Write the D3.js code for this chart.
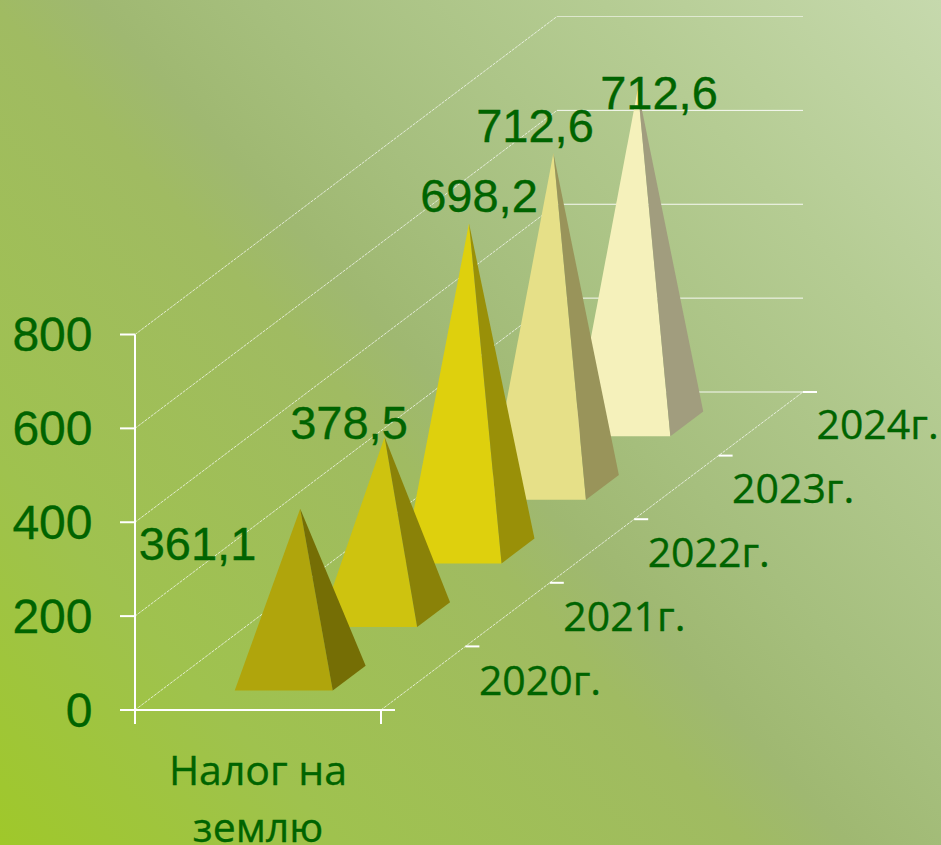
<!DOCTYPE html>
<html><head><meta charset="utf-8">
<script src="https://cdnjs.cloudflare.com/ajax/libs/d3/7.8.5/d3.min.js"></script>
<style>html,body{margin:0;padding:0;overflow:hidden}svg{display:block}</style>
</head><body><svg id="c" width="941" height="845"></svg>
<script>
const categories = ["Налог на", "землю"];
const years = ["2020г.", "2021г.", "2022г.", "2023г.", "2024г."];
const values = [361.1, 378.5, 698.2, 712.6, 712.6];
const labels = ["361,1", "378,5", "698,2", "712,6", "712,6"];
const yTicks = [0, 200, 400, 600, 800];
const frontColors = ["#b0a50c", "#cec30f", "#ded00d", "#e6e088", "#f5f1bb"];
const sideColors = ["#756e05", "#8a8208", "#999008", "#99945a", "#a19d7e"];

const svg = d3.select("#c");
const W = 941, H = 845;
const TEXT = "#006400";
const defs = svg.append("defs");
const g = defs.append("linearGradient").attr("id", "bg").attr("gradientUnits", "userSpaceOnUse")
  .attr("x1", 0).attr("y1", H).attr("x2", W).attr("y2", 0);
[[0, "#9fc82a"], [0.2, "#9fc24e"], [0.44, "#a0bb62"], [0.5, "#9fb871"], [0.6, "#a6bf7e"], [0.8, "#b5cc93"], [1, "#c6d9ad"]]
  .forEach(s => g.append("stop").attr("offset", s[0]).attr("stop-color", s[1]));
svg.append("rect").attr("width", W).attr("height", H).attr("fill", "url(#bg)");

const y = d3.scaleLinear().domain([0, 800]).range([710, 334.5]);
const x = d3.scaleBand().domain(["c"]).range([135, 381]);
const depthX = d3.scaleBand().domain(years).range([0, 422]);
const depthY = d3.scaleBand().domain(years).range([0, 318]);
const baseW = 98, depthFrac = 0.39;

const dx = 422, dy = -318;
const gridG = svg.append("g").attr("fill", "none");
yTicks.forEach(t => {
  gridG.append("path").attr("d", d3.line()([[135, y(t)], [135 + dx, y(t) + dy]]))
    .attr("stroke", "#fff").attr("stroke-opacity", .7).attr("stroke-width", 1).attr("stroke-dasharray", "3 1");
  gridG.append("path").attr("d", d3.line()([[135 + dx, y(t) + dy], [381 + dx, y(t) + dy]]))
    .attr("stroke", "#fff").attr("stroke-opacity", t === 800 ? .55 : .9).attr("stroke-width", 1);
});
gridG.append("path").attr("d", d3.line()([[381, y(0)], [381 + dx, y(0) + dy]]))
  .attr("stroke", "#fff").attr("stroke-opacity", .7).attr("stroke-dasharray", "3 1");

const axis = svg.append("g").attr("stroke", "#fff").attr("stroke-width", 2).attr("fill", "none");
axis.append("path").attr("d", d3.line()([[135, y(800)], [135, y(0) + 14]]));
axis.append("path").attr("d", d3.line()([[135, y(0)], [381, y(0)]]));
axis.append("path").attr("d", d3.line()([[381, y(0)], [381, y(0) + 14]]));
yTicks.forEach(t => axis.append("path").attr("d", d3.line()([[120, y(t)], [135, y(t)]])));
d3.range(0, 6).forEach(i => {
  const px = 381 + i * depthX.step(), py = y(0) - i * depthY.step();
  axis.append("path").attr("d", d3.line()([[px, py], [px + 14, py]]));
});

const marks = svg.append("g");
years.map((yr, i) => i).reverse().forEach(i => {
  const yr = years[i];
  const cx = x("c") + x.bandwidth() / 2 + depthX(yr) + depthX.bandwidth() / 2;
  const cy = y(0) - depthY(yr) - depthY.step() / 2;
  const hx = baseW / 2, sx = depthX.step() * depthFrac / 2, sy = depthY.step() * depthFrac / 2;
  const apex = [cx, cy - (y(0) - y(values[i]))];
  const fl = [cx - hx - sx, cy + sy], fr = [cx + hx - sx, cy + sy], br = [cx + hx + sx, cy - sy];
  marks.append("path").attr("d", d3.line().curve(d3.curveLinearClosed)([fl, fr, apex])).attr("fill", frontColors[i]);
  marks.append("path").attr("d", d3.line().curve(d3.curveLinearClosed)([fr, br, apex])).attr("fill", sideColors[i]);
});

const txt = svg.append("g").attr("fill", TEXT).attr("stroke", TEXT).attr("stroke-width", 0.35);
const arial = "'Liberation Sans', Arial, sans-serif";
const body = "'Open Sans', 'Noto Sans', sans-serif";
yTicks.forEach(t => txt.append("text").attr("x", 92.5).attr("y", y(t) + 16.5).attr("text-anchor", "end")
  .attr("font-family", arial).attr("font-size", 48).text(t));
const labelPos = [[197.5, 560], [349, 439], [479, 212], [535, 142], [659, 108.5]];
labels.forEach((l, i) => txt.append("text").attr("x", labelPos[i][0]).attr("y", labelPos[i][1])
  .attr("text-anchor", "middle").attr("font-family", arial).attr("font-size", 47).text(l));
years.forEach((yr, i) => txt.append("text")
  .attr("x", 540 + depthX(yr)).attr("y", 695 - i * 64).attr("text-anchor", "middle")
  .attr("font-family", body).attr("font-size", 41).text(yr));
categories.forEach((c, i) => txt.append("text").attr("x", 258).attr("y", 785 + i * 57)
  .attr("text-anchor", "middle").attr("font-family", body).attr("font-size", 41).text(c));
</script></body></html>
